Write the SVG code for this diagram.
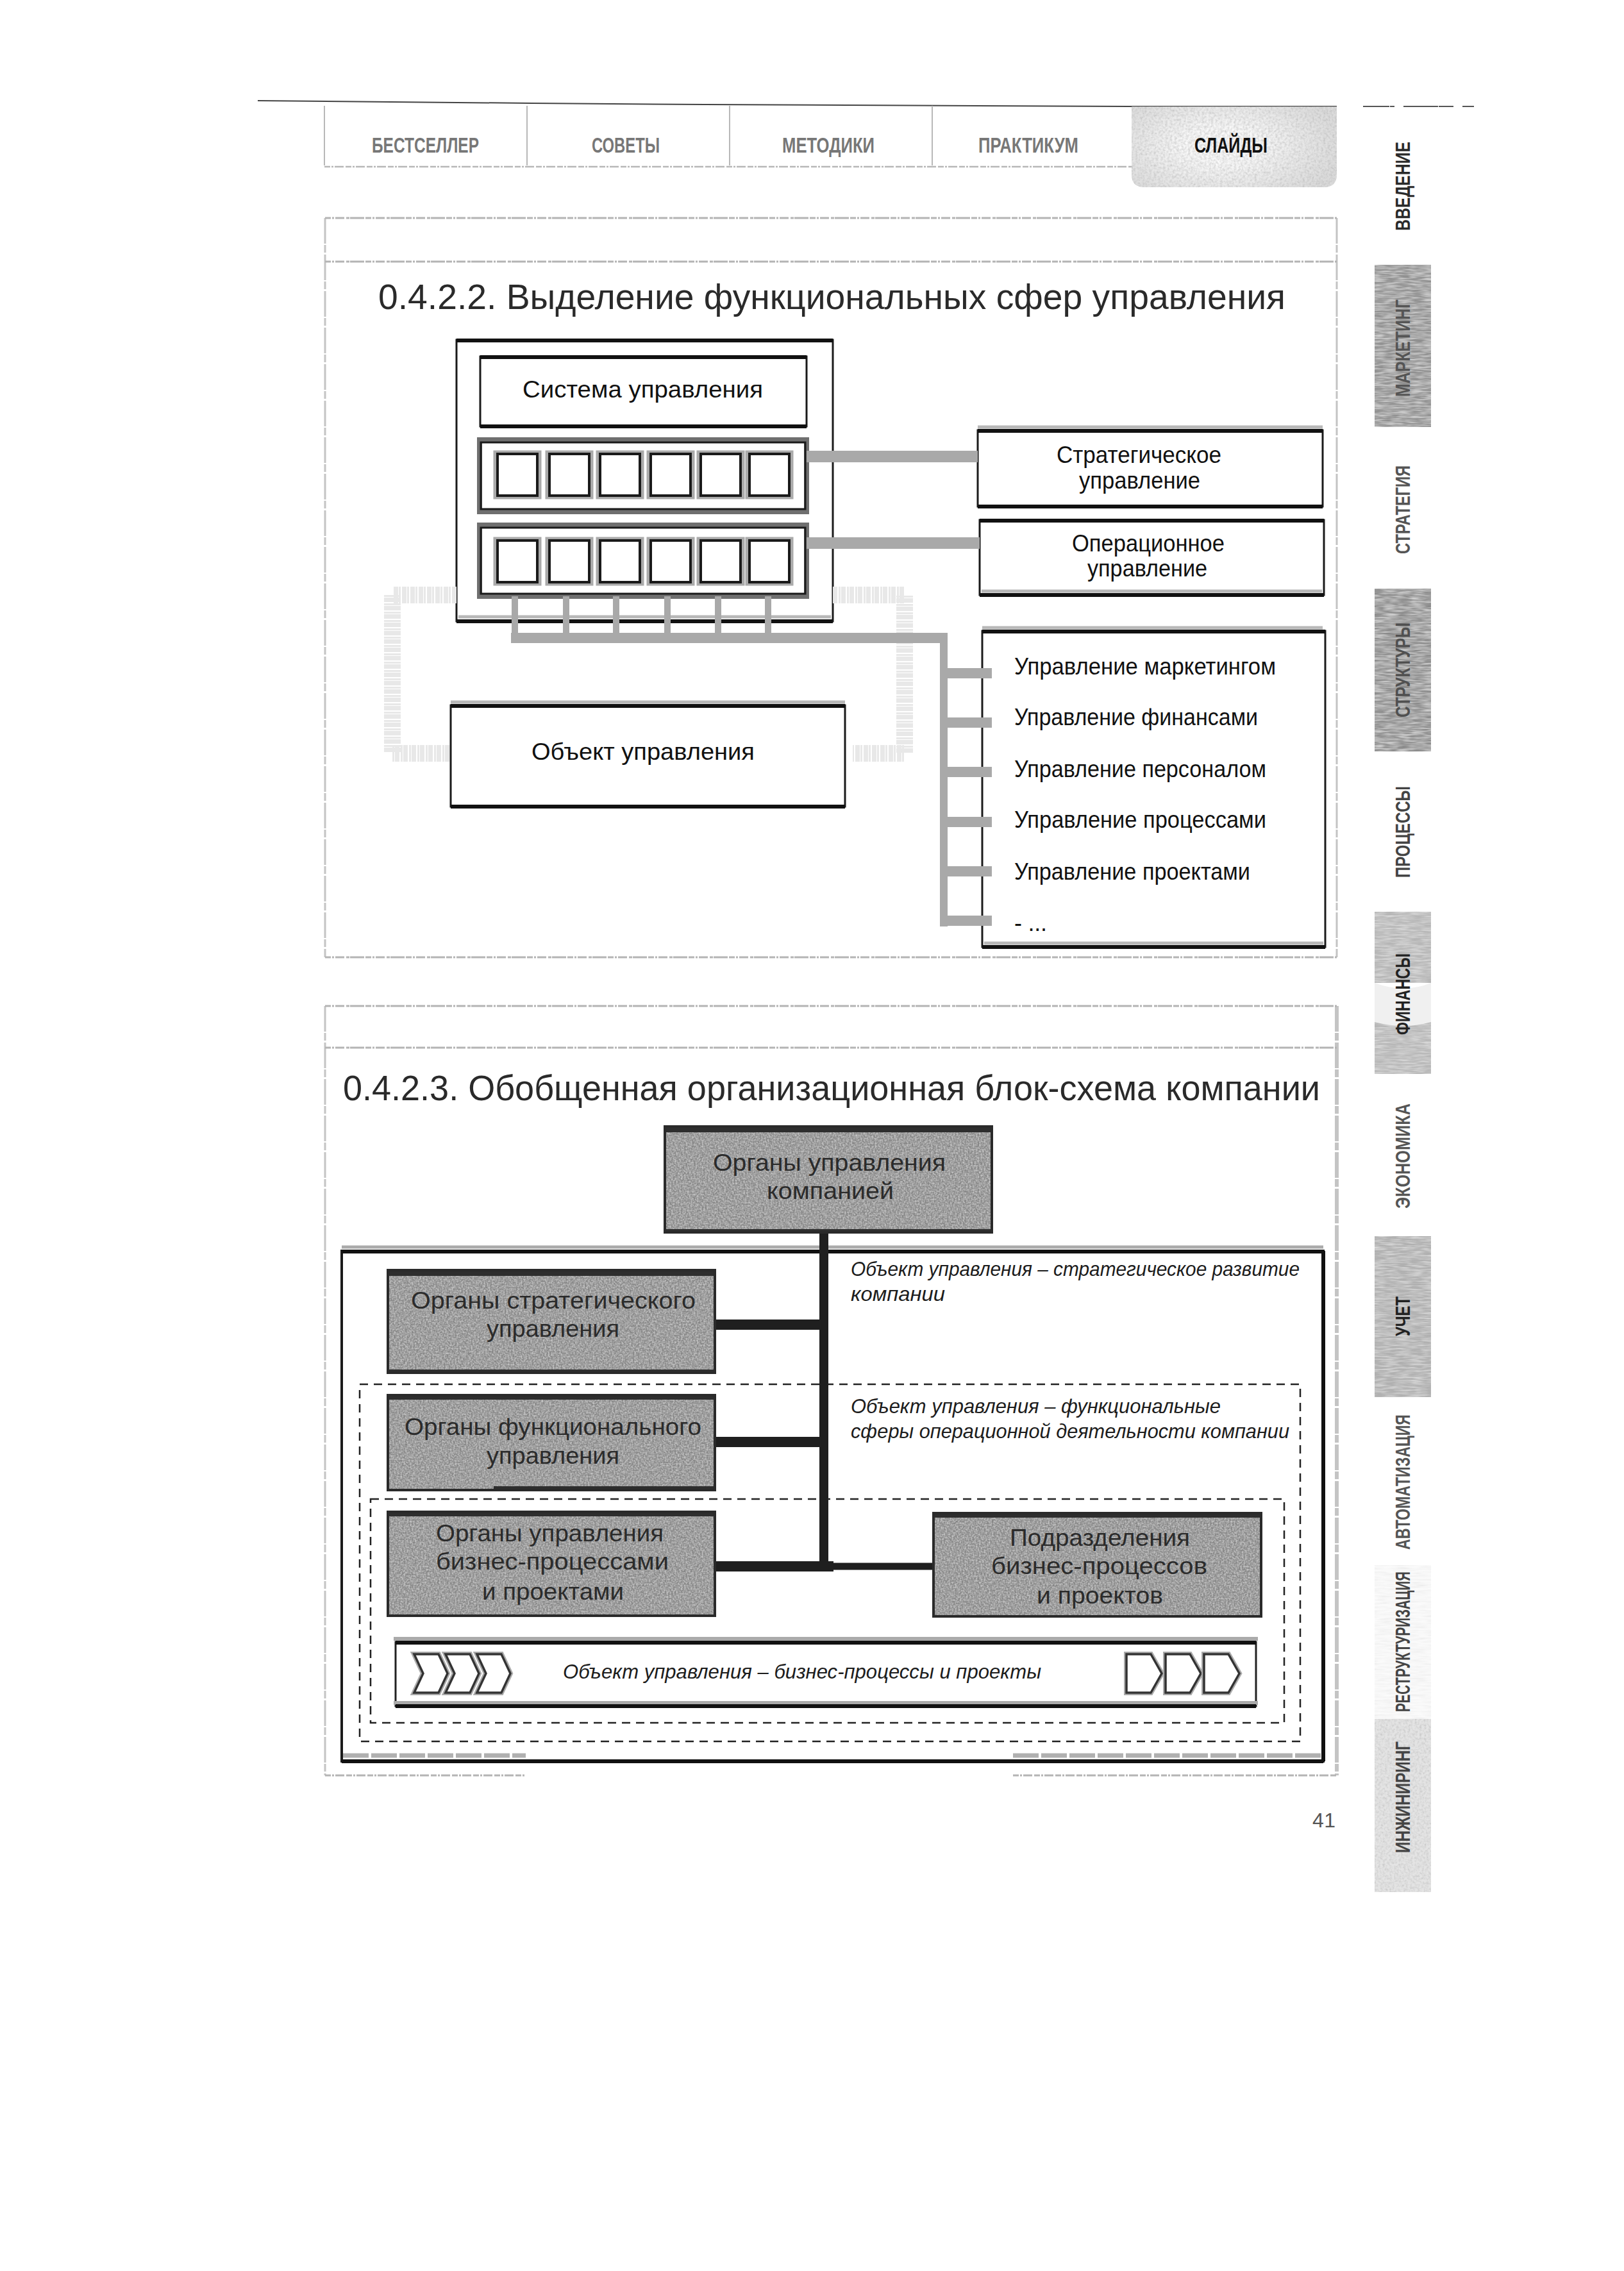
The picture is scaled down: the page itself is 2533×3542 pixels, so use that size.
<svg xmlns="http://www.w3.org/2000/svg" xmlns:xlink="http://www.w3.org/1999/xlink" width="2533" height="3542" viewBox="0 0 2533 3542">
<style>
text{font-family:"Liberation Sans",Arial,sans-serif;fill:#111;}
.tab{font-family:"Liberation Sans Narrow","Liberation Sans",sans-serif;font-size:34px;font-weight:700;fill:#777;}
.side{font-family:"Liberation Sans Narrow","Liberation Sans",sans-serif;font-size:32px;font-weight:700;fill:#2a2a2a;}
.title{font-size:56px;fill:#2a2a2a;}
.lab{font-size:36px;}
.dk{font-size:37px;fill:#2b2b2b;}
.it{font-size:32px;font-style:italic;fill:#1c1c1c;}
.box{fill:#fff;stroke:#1a1a1a;stroke-width:3;}
.shade{fill:none;stroke:#b8b8b8;stroke-width:5;}
.thick{stroke:#111;stroke-width:6;fill:none;}
.panel{stroke:#c4c4c4;stroke-width:3;fill:none;stroke-dasharray:40 2 12 3;}
.noisy{stroke:#b4b4b4;stroke-width:3;stroke-dasharray:9 2 3 2 14 3 5 1 22 2;fill:none;}
.lc{stroke:#a9a9a9;fill:none;stroke-width:16;}
.loop{stroke:#e8e8e8;fill:none;stroke-width:26;stroke-dasharray:7 2 3 1;}
.dc{stroke:#1f1f1f;fill:none;}
.dash{fill:none;stroke:#222;stroke-width:2.5;stroke-dasharray:13 9;}
.dark{fill:#868686;}
.band{fill:#2e2e2e;}
.edge{fill:none;stroke:#2a2a2a;stroke-width:4;}
.chev{fill:#fff;stroke:#333;stroke-width:3.5;}
.chevo{fill:none;stroke:#aaa;stroke-width:8;}
</style>
<defs>
<filter id="grain" x="0" y="0" width="100%" height="100%">
<feTurbulence type="fractalNoise" baseFrequency=".28" numOctaves="2" seed="4" result="n"/>
<feColorMatrix in="n" type="matrix" values="0 0 0 0 .35 0 0 0 0 .35 0 0 0 0 .35 0 0 0 1.4 -.5" result="d"/>
<feComposite in="d" in2="SourceAlpha" operator="in" result="dd"/>
<feTurbulence type="fractalNoise" baseFrequency=".4" numOctaves="2" seed="9" result="m"/>
<feColorMatrix in="m" type="matrix" values="0 0 0 0 .72 0 0 0 0 .72 0 0 0 0 .72 0 0 0 1.4 -.5" result="l"/>
<feComposite in="l" in2="SourceAlpha" operator="in" result="ll"/>
<feMerge><feMergeNode in="SourceGraphic"/><feMergeNode in="dd"/><feMergeNode in="ll"/></feMerge>
</filter>
<filter id="streak" x="0" y="0" width="100%" height="100%">
<feTurbulence type="fractalNoise" baseFrequency=".04 .35" numOctaves="2" seed="7" result="n"/>
<feColorMatrix in="n" type="matrix" values="0 0 0 0 .42 0 0 0 0 .42 0 0 0 0 .42 0 0 0 1.4 -.5" result="d"/>
<feComposite in="d" in2="SourceAlpha" operator="in" result="dd"/>
<feTurbulence type="fractalNoise" baseFrequency=".05 .4" numOctaves="2" seed="2" result="m"/>
<feColorMatrix in="m" type="matrix" values="0 0 0 0 .8 0 0 0 0 .8 0 0 0 0 .8 0 0 0 1.4 -.5" result="l"/>
<feComposite in="l" in2="SourceAlpha" operator="in" result="ll"/>
<feMerge><feMergeNode in="SourceGraphic"/><feMergeNode in="dd"/><feMergeNode in="ll"/></feMerge>
</filter>
<radialGradient id="tabfill" gradientUnits="userSpaceOnUse" cx="1905" cy="228" r="190" gradientTransform="translate(0 114) scale(1 .5)">
<stop offset=".3" stop-color="#fbfbfb"/><stop offset="1" stop-color="#cfcfcf"/>
</radialGradient>
<g id="cell"><rect x="0" y="0" width="68" height="69" fill="#fff" stroke="#aaa" stroke-width="7"/><rect x="3" y="2" width="62" height="65" fill="#fff" stroke="#1a1a1a" stroke-width="4"/></g>
<polygon id="chevron" points="0,0 38,0 52,30 38,60 0,60 14,30"/>
<polygon id="penta" points="0,0 38,0 55,30 38,60 0,60"/>
</defs>
<rect width="2533" height="3542" fill="#fff"/>

<g id="header">
<path d="M402 157 L830 161 L1100 163 L1760 166 L2085 166" fill="none" stroke="#444" stroke-width="2"/>
<path d="M2126 166H2167M2168 166H2175M2189 166H2243M2244 166H2267M2281 166H2299" fill="none" stroke="#555" stroke-width="2"/>
<path d="M506 165V258M822 165V258M1138 165V258M1454 165V258" fill="none" stroke="#b8b8b8" stroke-width="2"/>
<path d="M506 260H1765" fill="none" stroke="#b8b8b8" stroke-width="2.5" stroke-dasharray="9 2 3 2 14 3"/>
<path id="tab-active" d="M1765 166H2085V272Q2085 292 2065 292H1785Q1765 292 1765 272Z" fill="url(#tabfill)" filter="url(#grain)" opacity=".8"/>
<text class="tab" x="580" y="238" textLength="167" lengthAdjust="spacingAndGlyphs">БЕСТСЕЛЛЕР</text>
<text class="tab" x="923" y="238" textLength="106" lengthAdjust="spacingAndGlyphs">СОВЕТЫ</text>
<text class="tab" x="1220" y="238" textLength="144" lengthAdjust="spacingAndGlyphs">МЕТОДИКИ</text>
<text class="tab" x="1526" y="238" textLength="156" lengthAdjust="spacingAndGlyphs">ПРАКТИКУМ</text>
<text class="tab" x="1863" y="238" textLength="114" lengthAdjust="spacingAndGlyphs" style="fill:#111">СЛАЙДЫ</text>
</g>

<g id="sidebar">
<g id="side-vvedenie"><text class="side" transform="translate(2199 360) rotate(-90)" textLength="139" lengthAdjust="spacingAndGlyphs">ВВЕДЕНИЕ</text></g>
<g id="side-marketing"><rect x="2144" y="413" width="88" height="253" fill="#8f8f8f" filter="url(#streak)"/><text class="side" transform="translate(2199 619) rotate(-90)" textLength="152" lengthAdjust="spacingAndGlyphs" style="fill:#555">МАРКЕТИНГ</text></g>
<g id="side-strategy"><text class="side" transform="translate(2199 864) rotate(-90)" textLength="138" lengthAdjust="spacingAndGlyphs" style="fill:#555">СТРАТЕГИЯ</text></g>
<g id="side-structure"><rect x="2144" y="918" width="88" height="254" fill="#8a8a8a" filter="url(#streak)"/><text class="side" transform="translate(2199 1119) rotate(-90)" textLength="148" lengthAdjust="spacingAndGlyphs" style="fill:#505050">СТРУКТУРЫ</text></g>
<g id="side-process"><text class="side" transform="translate(2199 1369) rotate(-90)" textLength="143" lengthAdjust="spacingAndGlyphs" style="fill:#444">ПРОЦЕССЫ</text></g>
<g id="side-finance"><rect x="2144" y="1422" width="88" height="111" fill="#bcbcbc" filter="url(#streak)"/><rect x="2144" y="1594" width="88" height="81" fill="#bcbcbc" filter="url(#streak)"/><path d="M2144 1533Q2190 1550 2232 1533V1594Q2190 1606 2144 1594Z" fill="#f0f0f0"/><text class="side" transform="translate(2199 1614) rotate(-90)" textLength="127" lengthAdjust="spacingAndGlyphs" style="fill:#222">ФИНАНСЫ</text></g>
<g id="side-economy"><text class="side" transform="translate(2199 1885) rotate(-90)" textLength="164" lengthAdjust="spacingAndGlyphs" style="fill:#555">ЭКОНОМИКА</text></g>
<g id="side-account"><rect x="2144" y="1928" width="88" height="251" fill="#b2b2b2" filter="url(#streak)"/><text class="side" transform="translate(2199 2084) rotate(-90)" textLength="62" lengthAdjust="spacingAndGlyphs" style="fill:#222">УЧЕТ</text></g>
<g id="side-auto"><text class="side" transform="translate(2199 2417) rotate(-90)" textLength="211" lengthAdjust="spacingAndGlyphs" style="fill:#555">АВТОМАТИЗАЦИЯ</text></g>
<g id="side-restruct"><rect x="2144" y="2441" width="88" height="240" fill="#f3f3f3" filter="url(#streak)" opacity=".3"/><text class="side" transform="translate(2199 2670) rotate(-90)" textLength="219" lengthAdjust="spacingAndGlyphs" style="fill:#444">РЕСТРУКТУРИЗАЦИЯ</text></g>
<g id="side-engineer"><rect x="2144" y="2681" width="88" height="270" fill="#dcdcdc" filter="url(#grain)" opacity=".75"/><text class="side" transform="translate(2199 2890) rotate(-90)" textLength="174" lengthAdjust="spacingAndGlyphs" style="fill:#444">ИНЖИНИРИНГ</text></g>
</g>

<g id="panel-1">
<path class="panel" d="M507 340V1493M2085 340V1493"/>
<path class="noisy" d="M507 340H2085M507 408H2085M507 1493H2085"/>
<text class="title" x="590" y="482" textLength="1415" lengthAdjust="spacingAndGlyphs">0.4.2.2. Выделение функциональных сфер управления</text>
</g>

<g id="panel-2">
<path class="panel" d="M507 1569V2769"/>
<path d="M2085 1569V2769" fill="none" stroke="#c4c4c4" stroke-width="6" stroke-dasharray="40 2 12 3"/>
<path class="noisy" d="M507 1569H2085M507 1634H2085"/>
<path d="M507 2769H820M1580 2769H2085" fill="none" stroke="#b4b4b4" stroke-width="3" stroke-dasharray="9 2 3 2 14 3"/>
<text class="title" x="535" y="1716" textLength="1524" lengthAdjust="spacingAndGlyphs">0.4.2.3. Обобщенная организационная блок-схема компании</text>
</g>

<g id="node-system-outer"><rect class="box" x="712" y="530" width="587" height="439"/><path class="thick" d="M712 531H1299"/><path class="shade" d="M715 962H1296"/><path class="thick" d="M712 969H1299"/></g>
<g id="node-system"><rect class="box" x="749" y="556" width="509" height="109"/><path class="thick" d="M749 557H1258M749 665H1258"/><text class="lab" x="815" y="620" textLength="375" lengthAdjust="spacingAndGlyphs">Система управления</text></g>
<g id="node-row-1">
<rect x="748" y="686" width="510" height="112" fill="#fff" stroke="#6f6f6f" stroke-width="8"/><rect x="750" y="690" width="506" height="104" fill="none" stroke="#1a1a1a" stroke-width="3"/>
<use xlink:href="#cell" href="#cell" x="773" y="706"/><use xlink:href="#cell" href="#cell" x="854" y="706"/><use xlink:href="#cell" href="#cell" x="933" y="706"/><use xlink:href="#cell" href="#cell" x="1012" y="706"/><use xlink:href="#cell" href="#cell" x="1090" y="706"/><use xlink:href="#cell" href="#cell" x="1166" y="706"/>
</g>
<g id="node-row-2">
<rect x="748" y="819" width="510" height="111" fill="#fff" stroke="#6f6f6f" stroke-width="8"/><rect x="750" y="823" width="506" height="103" fill="none" stroke="#1a1a1a" stroke-width="3"/>
<use xlink:href="#cell" href="#cell" x="773" y="841"/><use xlink:href="#cell" href="#cell" x="854" y="841"/><use xlink:href="#cell" href="#cell" x="933" y="841"/><use xlink:href="#cell" href="#cell" x="1012" y="841"/><use xlink:href="#cell" href="#cell" x="1090" y="841"/><use xlink:href="#cell" href="#cell" x="1166" y="841"/>
</g>
<g id="node-strategic"><rect class="box" x="1525" y="671" width="538" height="119"/><path class="shade" d="M1525 666H2063"/><path class="thick" d="M1525 672H2063M1525 790H2063"/><text class="lab" x="1648" y="722" textLength="257" lengthAdjust="spacingAndGlyphs">Стратегическое</text><text class="lab" x="1683" y="762" textLength="189" lengthAdjust="spacingAndGlyphs">управление</text></g>
<g id="node-operational"><rect class="box" x="1528" y="811" width="537" height="117"/><path class="thick" d="M1528 812H2065M1528 928H2065"/><path class="shade" d="M1531 922H2062"/><text class="lab" x="1672" y="860" textLength="238" lengthAdjust="spacingAndGlyphs">Операционное</text><text class="lab" x="1696" y="899" textLength="187" lengthAdjust="spacingAndGlyphs">управление</text></g>
<g id="node-functions"><rect class="box" x="1532" y="984" width="535" height="493"/><path class="shade" d="M1532 979H2063M1535 1471H2064"/><path class="thick" d="M1532 985H2067M1532 1477H2067"/>
<text class="lab" x="1582" y="1052" textLength="408" lengthAdjust="spacingAndGlyphs">Управление маркетингом</text>
<text class="lab" x="1582" y="1131" textLength="380" lengthAdjust="spacingAndGlyphs">Управление финансами</text>
<text class="lab" x="1582" y="1212" textLength="393" lengthAdjust="spacingAndGlyphs">Управление персоналом</text>
<text class="lab" x="1582" y="1291" textLength="393" lengthAdjust="spacingAndGlyphs">Управление процессами</text>
<text class="lab" x="1582" y="1372" textLength="368" lengthAdjust="spacingAndGlyphs">Управление проектами</text>
<text class="lab" x="1582" y="1452" textLength="51">- ...</text></g>
<g id="node-object"><rect class="box" x="703" y="1100" width="615" height="158"/><path class="shade" d="M703 1095H1318"/><path class="thick" d="M703 1101H1318M703 1258H1318"/><text class="lab" x="829" y="1185" textLength="348" lengthAdjust="spacingAndGlyphs">Объект управления</text></g>

<g id="node-top"><rect class="dark" x="1035" y="1755" width="514" height="169" filter="url(#grain)"/><rect class="band" x="1035" y="1755" width="514" height="11"/><rect class="band" x="1035" y="1917" width="514" height="7"/><rect class="edge" x="1037" y="1757" width="510" height="165"/><text class="dk" x="1112" y="1826" textLength="363" lengthAdjust="spacingAndGlyphs">Органы управления</text><text class="dk" x="1196" y="1870" textLength="198" lengthAdjust="spacingAndGlyphs">компанией</text></g>

<g id="node-company"><rect x="533" y="1951" width="1531" height="796" fill="#fff" stroke="#1a1a1a" stroke-width="4"/><path d="M533 1945H2064" stroke="#aaa" stroke-width="5" fill="none"/><path class="thick" d="M533 1952H2064M533 2747H2064M2064 1951V2747"/><path d="M535 2738H820M1580 2738H2062" stroke="#b0b0b0" stroke-width="7" stroke-dasharray="40 4" fill="none"/></g>
<g id="zone-functional"><rect class="dash" x="561" y="2159" width="1467" height="557"/></g>
<g id="zone-process"><rect class="dash" x="578" y="2338" width="1425" height="349"/></g>

<g id="node-strategic-org"><rect class="dark" x="603" y="1979" width="514" height="164" filter="url(#grain)"/><rect class="band" x="603" y="1979" width="514" height="11"/><rect class="band" x="603" y="2136" width="514" height="7"/><rect class="edge" x="605" y="1981" width="510" height="160"/><text class="dk" x="641" y="2041" textLength="444" lengthAdjust="spacingAndGlyphs">Органы стратегического</text><text class="dk" x="759" y="2085" textLength="207" lengthAdjust="spacingAndGlyphs">управления</text></g>
<g id="node-functional-org"><rect class="dark" x="603" y="2174" width="514" height="152" filter="url(#grain)"/><rect class="band" x="603" y="2174" width="514" height="9"/><rect class="band" x="770" y="2318" width="347" height="8"/><rect class="edge" x="605" y="2176" width="510" height="148"/><text class="dk" x="631" y="2238" textLength="463" lengthAdjust="spacingAndGlyphs">Органы функционального</text><text class="dk" x="759" y="2283" textLength="207" lengthAdjust="spacingAndGlyphs">управления</text></g>
<g id="node-process-org"><rect class="dark" x="603" y="2356" width="514" height="166" filter="url(#grain)"/><rect class="band" x="603" y="2356" width="514" height="9"/><rect class="edge" x="605" y="2358" width="510" height="162"/><text class="dk" x="680" y="2404" textLength="355" lengthAdjust="spacingAndGlyphs">Органы управления</text><text class="dk" x="680" y="2448" textLength="363" lengthAdjust="spacingAndGlyphs">бизнес-процессами</text><text class="dk" x="752" y="2495" textLength="221" lengthAdjust="spacingAndGlyphs">и проектами</text></g>
<g id="node-divisions"><rect class="dark" x="1454" y="2358" width="515" height="165" filter="url(#grain)"/><rect class="band" x="1454" y="2358" width="515" height="9"/><rect class="edge" x="1456" y="2360" width="511" height="161"/><text class="dk" x="1575" y="2411" textLength="281" lengthAdjust="spacingAndGlyphs">Подразделения</text><text class="dk" x="1546" y="2455" textLength="337" lengthAdjust="spacingAndGlyphs">бизнес-процессов</text><text class="dk" x="1617" y="2501" textLength="197" lengthAdjust="spacingAndGlyphs">и проектов</text></g>

<g id="node-process-bar"><rect x="617" y="2561" width="1342" height="100" fill="#fff" stroke="#222" stroke-width="3"/><path d="M614 2556H1962M614 2656H1962" stroke="#aaa" stroke-width="6" fill="none"/><path class="thick" d="M617 2562H1959M617 2661H1959"/>
<g transform="translate(646 2580)"><use xlink:href="#chevron" href="#chevron" class="chevo"/><use xlink:href="#chevron" href="#chevron" class="chev"/></g>
<g transform="translate(695 2580)"><use xlink:href="#chevron" href="#chevron" class="chevo"/><use xlink:href="#chevron" href="#chevron" class="chev"/></g>
<g transform="translate(744 2580)"><use xlink:href="#chevron" href="#chevron" class="chevo"/><use xlink:href="#chevron" href="#chevron" class="chev"/></g>
<g transform="translate(1757 2580)"><use xlink:href="#penta" href="#penta" class="chevo"/><use xlink:href="#penta" href="#penta" class="chev"/></g>
<g transform="translate(1818 2580)"><use xlink:href="#penta" href="#penta" class="chevo"/><use xlink:href="#penta" href="#penta" class="chev"/></g>
<g transform="translate(1878 2580)"><use xlink:href="#penta" href="#penta" class="chevo"/><use xlink:href="#penta" href="#penta" class="chev"/></g>
<text class="it" x="878" y="2618" textLength="746" lengthAdjust="spacingAndGlyphs">Объект управления – бизнес-процессы и проекты</text></g>

<g id="notes">
<text class="it" x="1327" y="1990" textLength="700" lengthAdjust="spacingAndGlyphs">Объект управления – стратегическое развитие</text>
<text class="it" x="1327" y="2029" textLength="147" lengthAdjust="spacingAndGlyphs">компании</text>
<text class="it" x="1327" y="2204" textLength="577" lengthAdjust="spacingAndGlyphs">Объект управления – функциональные</text>
<text class="it" x="1327" y="2243" textLength="684" lengthAdjust="spacingAndGlyphs">сферы операционной деятельности компании</text>
</g>

<g id="connectors">
<path class="loop" d="M712 928H612V1175H703"/>
<path class="loop" d="M1299 928H1411V1175H1330"/>
<path class="lc" style="stroke-width:18" d="M1258 712H1525M1258 847H1528"/>
<path class="lc" style="stroke-width:10" d="M803 930V995M883 930V995M961 930V995M1041 930V995M1120 930V995M1198 930V995"/>
<path class="lc" d="M797 995H1478"/>
<path class="lc" style="stroke-width:12" d="M1472 995V1445"/>
<path class="lc" d="M1466 1050H1547M1466 1127H1547M1466 1204H1547M1466 1282H1547M1466 1359H1547M1466 1436H1547"/>
<path class="dc" stroke-width="14" d="M1285 1924V2450"/>
<path class="dc" stroke-width="16" d="M1117 2066H1285M1117 2249H1285"/>
<path class="dc" stroke-width="16" d="M1117 2443H1300"/>
<path class="dc" stroke-width="11" d="M1300 2443H1454"/>
</g>

<text id="page-number" x="2047" y="2850" font-size="32" textLength="36" lengthAdjust="spacing" style="fill:#555">41</text>
</svg>
